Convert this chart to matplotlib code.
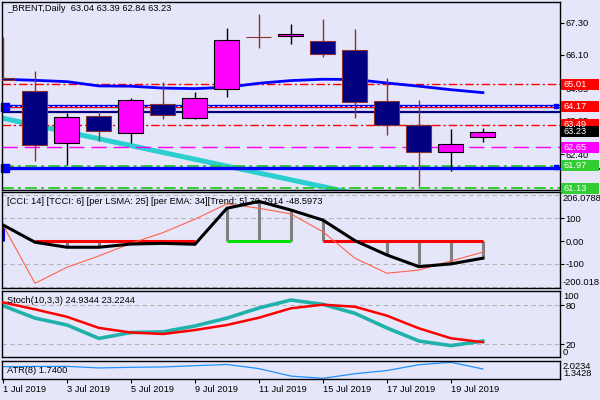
import numpy as np
import matplotlib
matplotlib.use("Agg")
import matplotlib.pyplot as plt
from matplotlib.patches import Rectangle

plt.rcParams['font.family'] = ['Liberation Sans', 'DejaVu Sans']
FS = 6.7
BG = '#E6E6FA'

# daily bars (1 Jul .. 22 Jul 2019)
dates = ['1 Jul 2019', '2 Jul 2019', '3 Jul 2019', '4 Jul 2019', '5 Jul 2019',
         '8 Jul 2019', '9 Jul 2019', '10 Jul 2019', '11 Jul 2019', '12 Jul 2019',
         '15 Jul 2019', '16 Jul 2019', '17 Jul 2019', '18 Jul 2019', '19 Jul 2019',
         '22 Jul 2019']
opens = [65.23, 64.75, 62.80, 63.81, 63.17, 64.28, 63.73, 64.81, 66.77, 66.80,
         66.61, 66.27, 64.37, 63.47, 62.46, 63.04]
highs = [66.77, 65.51, 63.94, 64.01, 64.50, 65.10, 64.70, 67.10, 67.62, 67.25,
         67.44, 67.06, 65.24, 64.43, 63.34, 63.39]
lows = [65.16, 62.15, 62.00, 62.90, 62.82, 63.72, 63.70, 64.54, 66.37, 66.49,
        66.03, 63.76, 63.12, 61.22, 61.78, 62.84]
closes = [65.16, 62.75, 63.77, 63.25, 64.40, 63.84, 64.48, 66.64, 66.75, 66.86,
          66.12, 64.33, 63.49, 62.46, 62.76, 63.23]

# blue moving average on price
ma_vals = [65.19, 65.15, 65.10, 64.94, 64.93, 64.86, 64.84, 64.89, 65.04, 65.14,
           65.19, 65.18, 65.05, 64.93, 64.80, 64.69]

# cyan trend line end points (bar, price)
trend_bars = [-1.0, 11.0]
trend_prices = [63.99, 60.93]

# horizontal price levels
lvl_red = [65.01, 63.49]
lvl_magenta = 62.65
lvl_green = [61.97, 61.13]
lvl_blue_top = 64.20
lvl_red_thin = 64.14
lvl_navy = 63.98
lvl_blue_low = 61.87

price_ticks = [67.30, 66.10, 64.85, 63.65, 62.40]
price_boxes = [(65.01, 'red'), (64.17, 'red'), (63.49, 'red'), (63.23, 'black'),
               (62.65, 'magenta'), (61.97, '#32CD32'), (61.13, '#32CD32')]

# CCI panel
cci = [70.79, -5, -27, -27, -13, -10, -14, 144, 174, 136, 92, 2, -61, -112, -100, -75]
tcci = [70.79, -185, -115, -65, -10, 37, 96, 163, 144, 119, 41, -75, -141, -127, -87, -48.6]
trend_state = ['b', 'r', 'r', 'r', 'r', 'r', 'r', 'g', 'g', 'g', 'r', 'r', 'r', 'r', 'r', 'r']

# Stochastic
stoch_main = [79, 60, 49.5, 29, 38, 39, 48, 60, 75.5, 87.6, 81, 67.3, 45, 25, 18, 24.93]
stoch_sig = [84, 73.4, 62, 45, 38, 35.7, 41.8, 49.5, 60.6, 75, 80.5, 77.4, 63.7, 44.4, 29.2, 23.22]

# ATR
atr = [1.838, 1.846, 1.85, 1.784, 1.81, 1.825, 1.879, 1.93, 1.755, 1.437, 1.3428,
       1.537, 1.673, 1.92, 2.0234, 1.74]

x = np.arange(len(dates))
o, h, l, c = map(np.array, (opens, highs, lows, closes))

fig = plt.figure(figsize=(6, 4), dpi=100, facecolor=BG)


def panel(top_px, bot_px):
    ax = fig.add_axes([2 / 600, 1 - bot_px / 400, 558 / 600, (bot_px - top_px) / 400], facecolor=BG)
    for s in ax.spines.values():
        s.set_linewidth(1.0)
        s.set_color('black')
    ax.set_xlim(-0.03, 17.41)
    ax.tick_params(axis='x', bottom=False, labelbottom=False)
    ax.yaxis.tick_right()
    ax.tick_params(axis='y', length=3, width=0.8, pad=1, labelsize=FS)
    return ax


# ---------------- main price panel ----------------
ax = panel(2, 190)
ax.set_ylim(61.06, 68.07)
ax.set_yticks(price_ticks)
ax.set_yticklabels([f'{v:.2f}' for v in price_ticks])

ax.plot(trend_bars, trend_prices, color='#2CCFCF', lw=3.6, solid_capstyle='butt', zorder=1)
for v in lvl_red:
    ax.axhline(v, color='red', lw=1, dashes=(6, 2.2, 1.5, 2.2), zorder=1.5)
ax.axhline(lvl_magenta, color='magenta', lw=1, dashes=(11, 5), zorder=1.5)
ax.axhline(lvl_green[0], color='#32CD32', lw=1.4, dashes=(6, 2.2, 1.5, 2.2), zorder=1.5)
ax.axhline(lvl_green[1], color='#32CD32', lw=1.4, dashes=(6, 2.2, 1.5, 2.2), zorder=1.5)
ax.axhline(lvl_blue_low, color='blue', lw=2.4, zorder=1.6)
ax.axhline(lvl_blue_top, color='blue', lw=2.4, zorder=1.6)
ax.axhline(lvl_blue_top, color='white', lw=0.6, dashes=(3, 3), zorder=1.7)
ax.axhline(lvl_red_thin, color='red', lw=0.8, zorder=1.7)
ax.axhline(lvl_navy, color='navy', lw=1.6, zorder=1.6)
ax.plot(x, ma_vals, color='blue', lw=2, zorder=2)

# end markers of the horizontal lines
for v in (lvl_red_thin, lvl_blue_low):
    ax.plot([0.05], [v], 's', ms=5.8, color='blue', clip_on=False, zorder=2)
    ax.plot([17.3], [v + 0.05], 's', ms=3.5, color='blue', clip_on=False, zorder=2)

bull = c >= o
edge = np.where(bull, 'black', '#8B3030')
fill = np.where(bull, 'magenta', 'navy')
ax.vlines(x, l, h, colors=edge, lw=1, zorder=3)
ax.bar(x, np.maximum(np.abs(c - o), 0.02), bottom=np.minimum(o, c), width=0.78,
       color=fill, edgecolor=edge, lw=0.8, zorder=4)

ax.text(0.009, 0.988, '_BRENT,Daily  63.04 63.39 62.84 63.23', transform=ax.transAxes,
        fontsize=FS, va='top', ha='left')

ytr = ax.get_yaxis_transform()
ax.plot([1.0, 1.075], [lvl_blue_low - 0.04, lvl_blue_low - 0.04], color='blue', lw=1.4,
        transform=ytr, clip_on=False, zorder=5)
for v, col in price_boxes:
    ax.add_patch(Rectangle((1.0018, v - 0.205), 0.068, 0.41, transform=ytr, facecolor=col,
                           edgecolor='none', clip_on=False, zorder=6))
    ax.text(1.0054, v, f'{v:.2f}', transform=ytr, color='white', fontsize=FS,
            va='center', ha='left', clip_on=False, zorder=7)

# ---------------- CCI panel ----------------
ax2 = panel(192.5, 287.5)
ax2.set_ylim(-203.5, 213)
ax2.set_yticks([100, 0, -100])
ax2.set_yticklabels(['100', '0.00', '-100'])
for v in (200, 100, -100, -200):
    ax2.axhline(v, color='#B4B4B4', lw=0.8, dashes=(4, 3), zorder=1)
for i in range(len(x)):
    col = 'blue' if trend_state[i] == 'b' else 'gray'
    ax2.vlines(x[i], 0, cci[i], colors=col, lw=2.2, zorder=2)
for state, col in (('r', 'red'), ('g', '#00E000')):
    seg = []
    for i, s in enumerate(trend_state + ['']):
        if s == state:
            seg.append(i)
        elif seg:
            ax2.plot([seg[0], seg[-1]], [0, 0], color=col, lw=2.2, solid_capstyle='butt', zorder=3)
            seg = []
ax2.plot(x, tcci, color='tomato', lw=0.8, zorder=3)
ax2.plot(x, cci, color='black', lw=2.2, zorder=4)
ax2.text(0.009, 0.955, '[CCI: 14] [TCCI: 6] [per LSMA: 25] [per EMA: 34][Trend: 5] 70.7914 -48.5973',
         transform=ax2.transAxes, fontsize=FS, va='top', ha='left')
ytr2 = ax2.get_yaxis_transform()
ax2.text(1.0054, 206.0788, '206.0788', transform=ytr2, fontsize=FS, va='top', ha='left', clip_on=False)
ax2.text(1.0054, -200.018, '-200.018', transform=ytr2, fontsize=FS, va='bottom', ha='left', clip_on=False)

# ---------------- Stochastic panel ----------------
ax3 = panel(291, 357)
ax3.set_ylim(0.6, 101.4)
ax3.set_yticks([80, 20])
ax3.set_yticklabels(['80', '20'])
for v in (80, 20):
    ax3.axhline(v, color='#B4B4B4', lw=0.8, dashes=(4, 3), zorder=1)
ax3.plot(x, stoch_main, color='#20B2AA', lw=2.6, zorder=2)
ax3.plot(x, stoch_sig, color='red', lw=1.8, zorder=3)
ax3.text(0.009, 0.93, 'Stoch(10,3,3) 24.9344 23.2244', transform=ax3.transAxes,
         fontsize=FS, va='top', ha='left')
ytr3 = ax3.get_yaxis_transform()
ax3.text(1.0054, 100, '100', transform=ytr3, fontsize=FS, va='top', ha='left', clip_on=False)
ax3.text(1.0054, 0, '0', transform=ytr3, fontsize=FS, va='bottom', ha='left', clip_on=False)

# ---------------- ATR panel ----------------
ax4 = panel(360.5, 379)
ax4.set_ylim(1.313, 2.10)
ax4.set_yticks([])
ax4.plot(x, atr, color='#1E90FF', lw=0.9, zorder=2)
ax4.text(0.009, 0.45, 'ATR(8) 1.7400', transform=ax4.transAxes, fontsize=FS, va='center', ha='left')
ytr4 = ax4.get_yaxis_transform()
ax4.text(1.0054, 2.0234, '2.0234', transform=ytr4, fontsize=FS, va='top', ha='left', clip_on=False)
ax4.text(1.0054, 1.3428, '1.3428', transform=ytr4, fontsize=FS, va='bottom', ha='left', clip_on=False)

ax4.set_xticks(x[::2])
ax4.set_xticklabels(dates[::2], ha='left')
ax4.tick_params(axis='x', bottom=True, labelbottom=True, length=3, width=0.8, pad=1.5, labelsize=FS)

fig.savefig('out.png', dpi=100, facecolor=BG)
